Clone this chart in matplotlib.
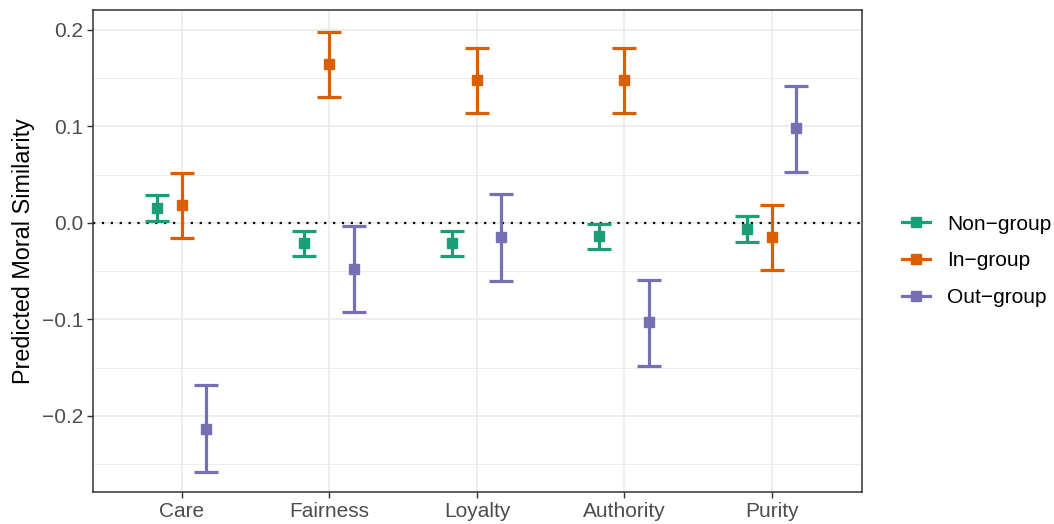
import numpy as np
import matplotlib.pyplot as plt
from matplotlib.lines import Line2D

plt.rcParams['font.family'] = ['Liberation Sans', 'DejaVu Sans']

# Data
foundations = ["Care", "Fairness", "Loyalty", "Authority", "Purity"]
groups = ["Non\u2212group", "In\u2212group", "Out\u2212group"]
colors = ["#1B9E77", "#D95F02", "#7570B3"]

non_est = [0.0155, -0.021, -0.021, -0.014, -0.006]
non_lo = [0.002, -0.034, -0.034, -0.027, -0.020]
non_hi = [0.029, -0.008, -0.008, -0.001, 0.007]

in_est = [0.0187, 0.165, 0.148, 0.148, -0.015]
in_lo = [-0.0155, 0.131, 0.114, 0.114, -0.049]
in_hi = [0.052, 0.198, 0.181, 0.181, 0.019]

out_est = [-0.213, -0.048, -0.015, -0.103, 0.098]
out_lo = [-0.258, -0.092, -0.060, -0.148, 0.053]
out_hi = [-0.168, -0.003, 0.030, -0.059, 0.142]

est = [non_est, in_est, out_est]
lo = [non_lo, in_lo, out_lo]
hi = [non_hi, in_hi, out_hi]

# ============================================================================

fig = plt.figure(figsize=(10.54, 5.24), dpi=100)
ax = fig.add_axes([0.0882, 0.061, 0.7296, 0.920])

x = np.arange(1, len(foundations) + 1)
offsets = [-0.17, 0.0, 0.165]

ax.axhline(0, color="black", ls=(0, (1, 3)), lw=1.6, zorder=2)

for g in range(3):
    e = np.array(est[g])
    yerr = [e - np.array(lo[g]), np.array(hi[g]) - e]
    ax.errorbar(x + offsets[g], e, yerr=yerr, fmt="s", color=colors[g],
                ms=6.5, elinewidth=2.3, capsize=8.6, capthick=2.3, zorder=3)

ax.set_xlim(0.397, 5.61)
ax.set_ylim(-0.2788, 0.2207)
ax.set_xticks(x)
ax.set_xticklabels(foundations)
ax.set_yticks([-0.2, -0.1, 0.0, 0.1, 0.2])
ax.set_yticklabels(["\u22120.2", "\u22120.1", "0.0", "0.1", "0.2"])
ax.set_yticks([-0.25, -0.15, -0.05, 0.05, 0.15], minor=True)

ax.grid(which="major", color="#EBEBEB", lw=1.2, zorder=0)
ax.grid(which="minor", axis="y", color="#EBEBEB", lw=0.6, zorder=0)
ax.set_axisbelow(True)

ax.tick_params(axis="both", which="major", labelsize=15, labelcolor="#4D4D4D",
               color="#333333", length=4, width=1, pad=3)
ax.tick_params(axis="both", which="minor", length=0)
for s in ax.spines.values():
    s.set_color("#333333")
    s.set_linewidth(1.1)

ax.set_ylabel("Predicted Moral Similarity", fontsize=16.8, labelpad=5)

handles = [Line2D([], [], color=c, lw=2.3, marker="s", ms=6.5) for c in colors]
fig.legend(handles, groups, loc="center left", bbox_to_anchor=(0.840, 0.502),
           frameon=False, fontsize=15, handlelength=1.35, labelspacing=0.85,
           handletextpad=0.8, borderpad=0.3)

fig.savefig("out.png", dpi=100)
